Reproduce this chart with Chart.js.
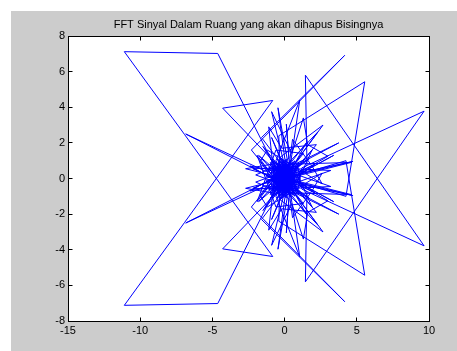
<!DOCTYPE html>
<html>
<head>
<meta charset="utf-8">
<script src="https://cdn.jsdelivr.net/npm/chart.js@4.4.1/dist/chart.umd.min.js"></script>
<style>
  html, body { margin: 0; padding: 0; background: #ffffff; }
  #frame { position: absolute; left: 11px; top: 11px; width: 446px; height: 340px; background: #cccccc; }
  canvas { display: block; }
</style>
</head>
<body>
<div id="frame"><canvas id="fft" width="446" height="340"></canvas></div>
<script>
// Spectrum of the room signal: real part vs imaginary part, bins in order.
// Positive-frequency bins
const reA = [0.35,-0.6,0.7,-0.2,0.3,-0.9,0.9,-0.5,0.1,0.6,
             -1.0,0.8,4.74,1.2,-0.4,0.2,-0.46,0.1,-0.8,0.95,
             -0.3,2.66,0.4,-1.1,0.5,-0.2,3.75,0.7,-0.7,1.0,
             -0.3,-0.9,-2.7,-0.5,0.6,-0.1,1.1,-0.2,-4.63,-11.1,
             -6.92,-0.82,-4.29,0.5,-0.8,0.4,-0.6,1.05,0.3,-0.9,
             0.7,0.0,-2.0,0.2,-1.0,0.9,1.2,9.66,1.44,1.55,
             -0.4,0.6,-0.8,0.3,2.31,0.0,-1.2,0.8,-0.3,-0.4,
             5.55,4.25,0.9,-0.7,0.4,-0.1,-1.6,4.16,-2.3,-0.5,
             0.7,-1.3,-6.85,-0.9,0.6,-0.2,1.0,-0.6,3.2,0.2,
             -0.5,0.5,-1.1,0.3,0.12,0.4,-0.7,0.9,-0.2,-1.5,
             0.1,1.0,-0.4,-0.8,0.6,1.9,-0.1,-1.0,0.8,0.1,
             4.6,0.9,-0.3,-1.8,0.5,-0.9,0.2,1.5,-0.6,2.1,
             0.0,-2.4,0.3,-0.9,0.5,1.3,1.6,3.0,-0.5,-1.7,
             -1.2,2.6,1.9,0.55,0.1,-2.2,0.7,1.7,-0.7,-1.1,
             -0.2,2.2,-0.2,-1.9,-0.6,1.3,-0.5,3.4,0.0];
const imA = [0.00,0.45,-0.3,0.9,-0.8,0.1,0.5,-0.7,1.1,-0.9,
             -0.3,0.2,0.96,0.35,-0.5,1.0,3.97,0.6,-0.9,-0.1,
             1.2,3.0,0.5,0.6,-1.1,0.3,2.0,0.8,-0.2,0.9,
             -1.0,0.8,0.55,0.1,0.6,-0.6,-0.4,-0.1,7.02,7.12,
             2.46,-4.38,-3.95,0.1,0.7,-0.6,1.0,4.4,0.2,-0.6,
             1.0,-0.9,-0.2,0.45,1.1,-0.7,0.6,3.78,-5.80,-0.75,
             0.8,-0.2,-1.0,0.9,2.62,0.1,-0.1,0.4,-0.8,2.4,
             5.43,-1.0,-0.2,0.3,-1.0,0.7,2.3,6.91,1.6,-0.2,
             0.7,0.4,2.5,0.05,0.9,-1.1,0.0,0.6,0.45,-0.4,
             1.1,-0.5,0.2,1.15,3.05,0.0,-0.5,0.7,0.5,1.8,
             -0.3,0.3,-0.9,0.5,-0.7,1.6,-0.2,0.9,-0.5,0.8,
             0.9,0.15,0.0,-1.3,0.3,-2.3,-0.1,-2.0,0.2,-0.8,
             0.4,-0.7,-0.3,3.75,1.4,3.4,1.9,1.25,-0.4,0.95,
             1.6,-0.3,0.7,2.2,-0.6,-0.55,0.5,1.1,-0.1,2.9,
             1.7,1.9,-0.5,1.3,-1.6,-1.4,0.4,-1.3,0.2];
// Negative-frequency bins (complex conjugates)
const reB = [0.35,-0.6,0.7,-0.2,0.3,-0.9,0.9,-0.5,0.1,0.6,
             -1.0,0.8,4.74,1.2,-0.4,0.2,-0.46,0.1,-0.8,0.95,
             -0.3,2.66,0.4,-1.1,0.5,-0.2,3.75,0.7,-0.7,1.0,
             -0.3,-0.9,-2.7,-0.5,0.6,-0.1,1.1,-0.2,-4.63,-11.1,
             -6.92,-0.82,-4.29,0.5,-0.8,0.4,-0.6,1.05,0.3,-0.9,
             0.7,0.0,-2.0,0.2,-1.0,0.9,1.2,9.66,1.44,1.55,
             -0.4,0.6,-0.8,0.3,2.31,0.0,-1.2,0.8,-0.3,-0.4,
             5.55,4.25,0.9,-0.7,0.4,-0.1,-1.6,4.16,-2.3,-0.5,
             0.7,-1.3,-6.85,-0.9,0.6,-0.2,1.0,-0.6,3.2,0.2,
             -0.5,0.5,-1.1,0.3,0.12,0.4,-0.7,0.9,-0.2,-1.5,
             0.1,1.0,-0.4,-0.8,0.6,1.9,-0.1,-1.0,0.8,0.1,
             4.6,0.9,-0.3,-1.8,0.5,-0.9,0.2,1.5,-0.6,2.1,
             0.0,-2.4,0.3,-0.9,0.5,1.3,1.6,3.0,-0.5,-1.7,
             -1.2,2.6,1.9,0.55,0.1,-2.2,0.7,1.7,-0.7,-1.1,
             -0.2,2.2,-0.2,-1.9,-0.6,1.3,-0.5,3.4,0.0];
const imB = [0.00,-0.45,0.3,-0.9,0.8,-0.1,-0.5,0.7,-1.1,0.9,
             0.3,-0.2,-0.96,-0.35,0.5,-1.0,-3.97,-0.6,0.9,0.1,
             -1.2,-3.0,-0.5,-0.6,1.1,-0.3,-2.0,-0.8,0.2,-0.9,
             1.0,-0.8,-0.55,-0.1,-0.6,0.6,0.4,0.1,-7.02,-7.12,
             -2.46,4.38,3.95,-0.1,-0.7,0.6,-1.0,-4.4,-0.2,0.6,
             -1.0,0.9,0.2,-0.45,-1.1,0.7,-0.6,-3.78,5.80,0.75,
             -0.8,0.2,1.0,-0.9,-2.62,-0.1,0.1,-0.4,0.8,-2.4,
             -5.43,1.0,0.2,-0.3,1.0,-0.7,-2.3,-6.91,-1.6,0.2,
             -0.7,-0.4,-2.5,-0.05,-0.9,1.1,0.0,-0.6,-0.45,0.4,
             -1.1,0.5,-0.2,-1.15,-3.05,0.0,0.5,-0.7,-0.5,-1.8,
             0.3,-0.3,0.9,-0.5,0.7,-1.6,0.2,-0.9,0.5,-0.8,
             -0.9,-0.15,0.0,1.3,-0.3,2.3,0.1,2.0,-0.2,0.8,
             -0.4,0.7,0.3,-3.75,-1.4,-3.4,-1.9,-1.25,0.4,-0.95,
             -1.6,0.3,-0.7,-2.2,0.6,0.55,-0.5,-1.1,0.1,-2.9,
             -1.7,-1.9,0.5,-1.3,1.6,1.4,-0.4,1.3,-0.2];

const xTicks = [-15, -10, -5, 0, 5, 10];
const yTicks = [-8, -6, -4, -2, 0, 2, 4, 6, 8];
const titleText = 'FFT Sinyal Dalam Ruang yang akan dihapus Bisingnya';

const points = [];
reA.forEach((r, i) => points.push({ x: r, y: imA[i] }));
reB.forEach((r, i) => points.push({ x: r, y: imB[i] }));

const FONT = '"Liberation Sans", Arial, Helvetica, sans-serif';
const TICK_LEN = 4;

// White plot box with a closed black frame and inward tick marks on all four sides
const axesBox = {
  id: 'axesBox',
  beforeDraw(chart) {
    const { ctx, chartArea: a } = chart;
    ctx.save();
    ctx.fillStyle = '#ffffff';
    ctx.fillRect(a.left, a.top, a.right - a.left, a.bottom - a.top);
    ctx.restore();
  },
  afterDatasetsDraw(chart) {
    const { ctx, chartArea: a, scales } = chart;
    const L = Math.floor(a.left) + 0.5, R = Math.floor(a.right) + 0.5;
    const T = Math.floor(a.top) + 0.5, B = Math.floor(a.bottom) + 0.5;
    ctx.save();
    ctx.strokeStyle = '#000000';
    ctx.lineWidth = 1;
    ctx.beginPath();
    scales.x.ticks.forEach(t => {
      const px = Math.floor(scales.x.getPixelForValue(t.value)) + 0.5;
      ctx.moveTo(px, B); ctx.lineTo(px, B - TICK_LEN);
      ctx.moveTo(px, T); ctx.lineTo(px, T + TICK_LEN);
    });
    scales.y.ticks.forEach(t => {
      const py = Math.floor(scales.y.getPixelForValue(t.value)) + 0.5;
      ctx.moveTo(L, py); ctx.lineTo(L + TICK_LEN, py);
      ctx.moveTo(R, py); ctx.lineTo(R - TICK_LEN, py);
    });
    ctx.stroke();
    ctx.strokeRect(L, T, R - L, B - T);
    ctx.restore();
  }
};

new Chart(document.getElementById('fft'), {
  type: 'scatter',
  data: {
    datasets: [{
      data: points,
      showLine: true,
      borderColor: '#0000ff',
      borderWidth: 1,
      pointRadius: 0,
      pointHoverRadius: 0,
      tension: 0,
      fill: false
    }]
  },
  options: {
    responsive: false,
    animation: false,
    devicePixelRatio: 1,
    events: [],
    layout: { padding: { left: 0, right: 28, top: 0, bottom: 0 } },
    plugins: {
      legend: { display: false },
      tooltip: { enabled: false },
      title: {
        display: true,
        text: titleText,
        fullSize: false,
        color: '#000000',
        font: { family: FONT, size: 11, weight: 'normal' },
        padding: { top: 7.4, bottom: 4.4 }
      }
    },
    scales: {
      x: {
        type: 'linear',
        min: xTicks[0],
        max: xTicks[xTicks.length - 1],
        afterBuildTicks(s) { s.ticks = xTicks.map(v => ({ value: v })); },
        afterFit(s) { s.height = 30; },
        ticks: { color: '#000000', font: { family: FONT, size: 11 }, padding: 3, maxRotation: 0, autoSkip: false },
        grid: { display: false, drawTicks: false },
        border: { display: false }
      },
      y: {
        type: 'linear',
        min: yTicks[0],
        max: yTicks[yTicks.length - 1],
        afterBuildTicks(s) { s.ticks = yTicks.map(v => ({ value: v })); },
        afterFit(s) { s.width = 57; },
        ticks: { color: '#000000', font: { family: FONT, size: 11 }, padding: 3, autoSkip: false },
        grid: { display: false, drawTicks: false },
        border: { display: false }
      }
    }
  },
  plugins: [axesBox]
});
</script>
</body>
</html>
